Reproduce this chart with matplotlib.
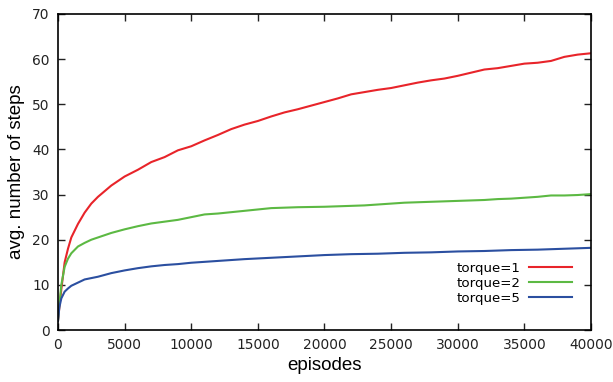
import matplotlib

matplotlib.use("Agg")

import matplotlib.pyplot as plt
import numpy as np

# episodes at which the curves were read
episodes = [0, 100, 250, 500, 750, 1000, 1500, 2000, 2500, 3000, 4000, 5000, 6000, 7000,
            8000, 9000, 10000, 11000, 12000, 13000, 14000, 15000, 16000, 17000, 18000,
            19000, 20000, 21000, 22000, 23000, 24000, 25000, 26000, 27000, 28000, 29000,
            30000, 31000, 32000, 33000, 34000, 35000, 36000, 37000, 38000, 39000, 40000]

torque1 = [2, 5, 9, 15, 18, 20.5, 23.5, 26, 28, 29.5, 32, 34, 35.5, 37.2,
           38.3, 39.8, 40.7, 42, 43.2, 44.5, 45.5, 46.3, 47.3, 48.2, 48.9,
           49.7, 50.5, 51.3, 52.2, 52.7, 53.2, 53.6, 54.2, 54.8, 55.3, 55.7,
           56.3, 57, 57.7, 58, 58.5, 59, 59.2, 59.6, 60.5, 61, 61.3]

torque2 = [2, 5.5, 10, 14, 15.8, 17, 18.5, 19.3, 20, 20.5, 21.5, 22.3, 23, 23.6,
           24, 24.4, 25, 25.6, 25.8, 26.1, 26.4, 26.7, 27, 27.1, 27.2,
           27.25, 27.3, 27.4, 27.5, 27.6, 27.8, 28, 28.2, 28.3, 28.4, 28.5,
           28.6, 28.7, 28.8, 29, 29.1, 29.3, 29.5, 29.8, 29.8, 29.9, 30.1]

torque5 = [2, 5, 7, 8.5, 9.2, 9.8, 10.5, 11.2, 11.5, 11.8, 12.6, 13.2, 13.7, 14.1,
           14.4, 14.6, 14.9, 15.1, 15.3, 15.5, 15.7, 15.85, 16, 16.15, 16.3,
           16.45, 16.6, 16.7, 16.8, 16.85, 16.9, 17, 17.1, 17.15, 17.2, 17.3,
           17.4, 17.45, 17.5, 17.6, 17.7, 17.75, 17.8, 17.9, 18, 18.1, 18.2]

series = [("torque=1", torque1, "#e8242a"),
          ("torque=2", torque2, "#5cb943"),
          ("torque=5", torque5, "#2b4fa0")]

fig = plt.figure(figsize=(6.13, 3.82), dpi=100)
ax = fig.add_axes([0.0946, 0.1361, 0.8695, 0.8273])

for label, values, color in series:
    ax.plot(episodes, values, color=color, lw=1.5, label=label)

ax.set_xlim(0, 40000)
ax.set_ylim(0, 70)
ax.set_xticks(np.arange(0, 40001, 5000))
ax.set_yticks(np.arange(0, 71, 10))
ax.tick_params(direction="in", top=True, right=True, length=5, width=1,
               labelsize=9.9, colors="#222222", pad=6)
for spine in ax.spines.values():
    spine.set_linewidth(1.2)

ax.set_xlabel("episodes", fontsize=13.5, family="Liberation Sans", labelpad=3)
ax.set_ylabel("avg. number of steps", fontsize=13.5, family="Liberation Sans", labelpad=5)

ax.legend(loc="lower right", bbox_to_anchor=(0.976, 0.058), frameon=False,
          markerfirst=False, fontsize=9.6, handlelength=3.2, handletextpad=0.6,
          labelspacing=0.16, borderpad=0)

fig.savefig("out.png", dpi=100)
plt.close(fig)
